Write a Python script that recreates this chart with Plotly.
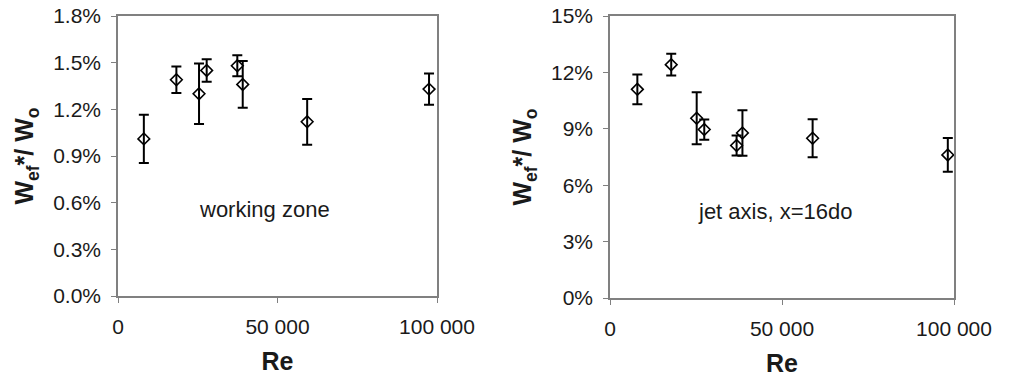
import plotly.graph_objects as go

# Data
re_left = [8100, 18300, 25400, 27800, 37400, 39100, 59300, 97500]
w_left = [0.0101, 0.0139, 0.0130, 0.0145, 0.0148, 0.0136, 0.0112, 0.0133]
err_left = [0.00155, 0.00085, 0.00195, 0.00072, 0.00068, 0.0015, 0.00147, 0.0010]

re_right = [7950, 17800, 25200, 27400, 36800, 38500, 58900, 98200]
w_right = [0.1110, 0.1241, 0.0956, 0.0896, 0.0811, 0.0878, 0.0850, 0.0761]
err_right = [0.0079, 0.0058, 0.0138, 0.0054, 0.0053, 0.0121, 0.0101, 0.0090]

x_tickvals = [0, 50000, 100000]
x_ticktext = ["0", "50 000", "100 000"]
y_left_ticks = [0, 0.003, 0.006, 0.009, 0.012, 0.015, 0.018]
y_right_ticks = [0, 0.03, 0.06, 0.09, 0.12, 0.15]

FONT = "Liberation Sans, Arial, sans-serif"
INK = "#1a1a1a"
FRAME = "#808080"

fig = go.Figure()

marker = dict(symbol="diamond-open", size=9, color="black", line=dict(width=1.6, color="black"))
fig.add_trace(go.Scatter(
    x=re_left, y=w_left, mode="markers", marker=marker,
    error_y=dict(type="data", array=err_left, color="black", thickness=2, width=5),
    xaxis="x", yaxis="y", showlegend=False))
fig.add_trace(go.Scatter(
    x=re_right, y=w_right, mode="markers", marker=marker,
    error_y=dict(type="data", array=err_right, color="black", thickness=2, width=5),
    xaxis="x2", yaxis="y2", showlegend=False))

W, H = 1010, 378
top_y = 1 - 16 / H
bot_l = 1 - 296 / H
bot_r = 1 - 298 / H

common_x = dict(range=[0, 100000], tickvals=x_tickvals, ticktext=x_ticktext, automargin=False,
                showline=True, linecolor=FRAME, linewidth=1.5, mirror=True,
                ticks="outside", ticklen=5, tickcolor=FRAME, showgrid=False, zeroline=False,
                tickfont=dict(family=FONT, size=21, color=INK), ticklabelstandoff=6,
                title=dict(text="<b>Re</b>", font=dict(family=FONT, size=25, color=INK), standoff=16))
common_y = dict(showline=True, linecolor=FRAME, linewidth=1.5, mirror=True, automargin=False,
                ticks="outside", ticklen=5, tickcolor=FRAME, showgrid=False, zeroline=False,
                tickfont=dict(family=FONT, size=21, color=INK), ticklabelstandoff=6,
                title=dict(text="<b>W<sub>ef</sub>*/ W<sub>o</sub></b>",
                           font=dict(family=FONT, size=25, color=INK), standoff=12))

fig.update_layout(
    width=W, height=H, autosize=False,
    margin=dict(l=0, r=0, t=0, b=0, pad=0, autoexpand=False),
    paper_bgcolor="white", plot_bgcolor="white",
    xaxis=dict(domain=[118 / W, 437 / W], anchor="y", **common_x),
    yaxis=dict(domain=[bot_l, top_y], anchor="x", range=[0, 0.018],
               tickvals=y_left_ticks, tickformat=".1%", **common_y),
    xaxis2=dict(domain=[610 / W, 954 / W], anchor="y2", **common_x),
    yaxis2=dict(domain=[bot_r, top_y], anchor="x2", range=[0, 0.15],
                tickvals=y_right_ticks, tickformat=".0%", **common_y),
    annotations=[
        dict(x=45900, y=0.00553, xref="x", yref="y", text="working zone", showarrow=False,
             font=dict(family=FONT, size=22, color=INK)),
        dict(x=48000, y=0.0462, xref="x2", yref="y2", text="jet axis, x=16do", showarrow=False,
             font=dict(family=FONT, size=22, color=INK)),
    ],
)

fig.write_html("out.html", config={"displayModeBar": False},
               post_script="document.body.style.margin='0';document.body.style.overflow='hidden';")
